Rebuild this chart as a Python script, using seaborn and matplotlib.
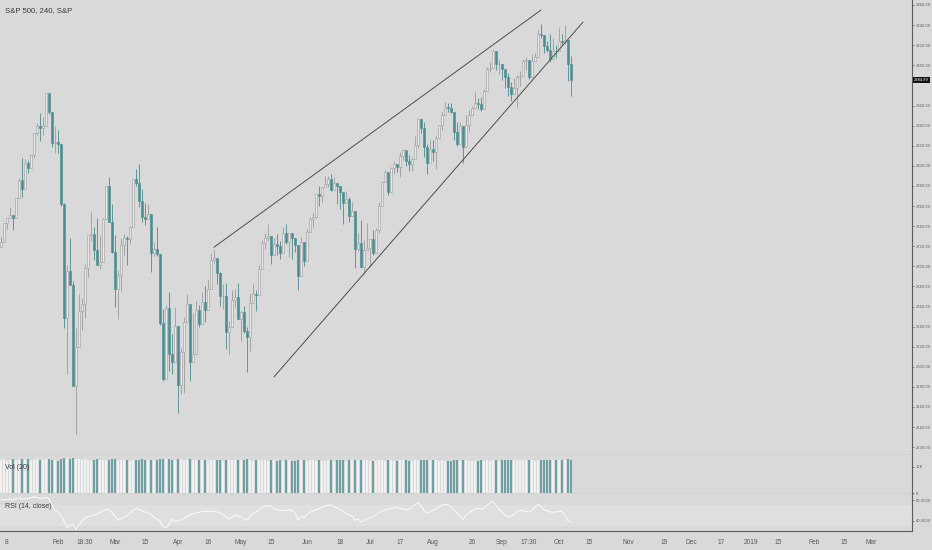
import matplotlib
matplotlib.use("Agg")
import matplotlib.pyplot as plt
from matplotlib import font_manager
import numpy as np
import pandas as pd
import seaborn as sns

# S&P 500, 240 min view, read back at daily resolution (Jan 4 - Oct 5 2018)
start_date = "2018-01-04"
end_date = "2019-03-29"
holidays = ["2018-01-15", "2018-02-19", "2018-03-30", "2018-05-28", "2018-07-04",
            "2018-09-03", "2018-11-22", "2018-12-25", "2019-01-01", "2019-01-21",
            "2019-02-18"]
first_open = 2719.5

close = [
    2723.99, 2743.15, 2747.71, 2751.29, 2748.23, 2767.56, 2786.24, 2776.42, 2802.56, 2798.03,
    2810.30, 2832.97, 2839.13, 2837.54, 2839.25, 2872.87, 2853.53, 2822.43, 2823.81, 2821.98,
    2762.13, 2648.94, 2695.14, 2681.66, 2581.00, 2619.55, 2656.00, 2662.94, 2698.63, 2731.20,
    2732.22, 2716.26, 2701.33, 2703.96, 2747.30, 2779.60, 2744.28, 2713.83, 2677.67, 2691.25,
    2720.94, 2728.12, 2726.80, 2738.97, 2786.57, 2783.02, 2765.31, 2749.48, 2747.33, 2752.01,
    2712.92, 2716.94, 2711.93, 2643.69, 2588.26, 2658.55, 2612.62, 2605.00, 2640.87, 2581.88,
    2614.45, 2644.69, 2662.84, 2604.47, 2613.16, 2656.87, 2642.19, 2663.99, 2656.30, 2677.84,
    2706.39, 2708.64, 2693.13, 2670.14, 2670.29, 2634.56, 2639.40, 2666.94, 2669.91, 2648.05,
    2654.80, 2635.67, 2629.73, 2663.42, 2672.63, 2671.92, 2697.79, 2723.07, 2727.72, 2730.13,
    2711.45, 2722.46, 2720.13, 2712.97, 2733.01, 2724.44, 2733.29, 2727.76, 2721.33, 2689.86,
    2724.01, 2705.27, 2734.62, 2746.87, 2748.80, 2772.35, 2770.37, 2779.03, 2782.00, 2786.85,
    2775.63, 2782.49, 2779.66, 2773.75, 2762.59, 2767.32, 2749.76, 2754.88, 2717.07, 2723.06,
    2699.63, 2716.31, 2718.37, 2726.71, 2713.22, 2736.61, 2759.82, 2784.17, 2793.84, 2774.02,
    2798.29, 2801.31, 2798.43, 2809.55, 2815.62, 2804.49, 2801.83, 2806.98, 2820.40, 2846.07,
    2837.44, 2818.82, 2802.60, 2816.29, 2813.36, 2827.22, 2840.35, 2850.40, 2858.45, 2857.70,
    2853.58, 2833.28, 2821.93, 2839.96, 2818.37, 2840.69, 2850.13, 2857.05, 2862.96, 2861.82,
    2856.98, 2874.69, 2896.74, 2897.52, 2914.04, 2901.13, 2901.52, 2896.72, 2888.60, 2878.05,
    2871.68, 2877.13, 2887.89, 2888.92, 2904.18, 2904.98, 2888.80, 2904.31, 2907.95, 2930.75,
    2929.67, 2919.37, 2915.56, 2905.97, 2914.00, 2913.98, 2924.59, 2923.43, 2925.51, 2901.61,
    2884.99,
]
high = [
    2729.29, 2743.45, 2748.51, 2759.14, 2750.80, 2767.56, 2787.85, 2807.54, 2807.04, 2805.83,
    2810.33, 2833.03, 2842.24, 2852.97, 2848.56, 2872.87, 2870.62, 2837.75, 2839.26, 2835.96,
    2808.92, 2763.39, 2701.04, 2727.67, 2685.27, 2638.67, 2672.61, 2668.84, 2702.10, 2731.51,
    2754.42, 2739.14, 2747.75, 2731.26, 2747.76, 2779.60, 2789.15, 2761.52, 2730.89, 2696.25,
    2728.09, 2732.08, 2730.60, 2740.45, 2786.57, 2797.22, 2801.90, 2777.11, 2763.03, 2761.85,
    2741.38, 2724.22, 2739.14, 2695.68, 2657.67, 2661.36, 2674.78, 2632.65, 2659.07, 2638.30,
    2618.42, 2649.86, 2672.08, 2656.88, 2653.55, 2665.45, 2661.43, 2674.72, 2680.26, 2686.49,
    2713.34, 2717.49, 2702.84, 2693.94, 2682.86, 2683.55, 2645.30, 2676.48, 2677.35, 2682.92,
    2655.27, 2660.87, 2639.62, 2673.61, 2683.35, 2676.34, 2701.27, 2726.11, 2732.86, 2742.10,
    2718.59, 2727.76, 2731.96, 2725.11, 2739.19, 2742.24, 2733.33, 2731.97, 2728.09, 2710.67,
    2729.34, 2722.50, 2736.93, 2749.16, 2752.61, 2772.39, 2779.90, 2779.39, 2790.21, 2789.80,
    2791.47, 2789.06, 2782.81, 2774.99, 2763.39, 2774.86, 2769.28, 2764.17, 2742.94, 2732.91,
    2746.09, 2725.90, 2743.26, 2727.26, 2736.58, 2737.83, 2764.41, 2784.65, 2795.58, 2785.91,
    2799.22, 2804.53, 2801.19, 2814.19, 2816.76, 2812.05, 2810.85, 2808.61, 2829.99, 2848.03,
    2844.24, 2843.17, 2821.74, 2825.83, 2825.58, 2829.91, 2840.38, 2853.29, 2863.43, 2862.48,
    2862.44, 2842.20, 2843.40, 2843.11, 2827.95, 2850.49, 2855.63, 2859.76, 2873.23, 2867.54,
    2868.78, 2876.16, 2898.25, 2903.77, 2916.50, 2912.46, 2906.32, 2900.18, 2894.21, 2892.68,
    2883.81, 2886.93, 2890.74, 2894.65, 2906.76, 2908.30, 2904.65, 2911.17, 2911.77, 2934.80,
    2940.91, 2923.79, 2923.95, 2931.15, 2927.22, 2920.53, 2937.06, 2931.42, 2939.86, 2919.78,
    2909.64,
]
low = [
    2719.07, 2727.92, 2737.60, 2747.86, 2736.06, 2752.78, 2769.64, 2768.64, 2778.38, 2792.56,
    2798.08, 2808.12, 2830.59, 2824.81, 2830.94, 2846.18, 2851.48, 2818.27, 2813.04, 2812.70,
    2759.97, 2638.17, 2593.07, 2681.33, 2580.56, 2532.69, 2622.45, 2637.08, 2648.87, 2689.82,
    2725.11, 2706.76, 2701.29, 2697.77, 2713.74, 2758.49, 2744.22, 2713.54, 2659.65, 2647.32,
    2675.75, 2711.26, 2701.74, 2722.65, 2751.54, 2780.00, 2758.68, 2744.38, 2741.47, 2749.97,
    2694.59, 2710.05, 2709.79, 2641.59, 2585.89, 2601.81, 2596.12, 2593.06, 2609.72, 2553.80,
    2573.36, 2573.61, 2649.58, 2586.27, 2610.79, 2635.78, 2639.25, 2653.83, 2645.05, 2665.16,
    2692.05, 2703.63, 2681.90, 2660.61, 2657.99, 2617.32, 2612.67, 2647.16, 2659.01, 2648.04,
    2625.41, 2633.45, 2594.62, 2615.32, 2664.70, 2655.20, 2674.14, 2704.54, 2717.45, 2725.47,
    2701.91, 2712.17, 2711.36, 2707.38, 2725.70, 2721.88, 2709.54, 2707.38, 2714.26, 2676.81,
    2702.38, 2700.68, 2718.70, 2740.54, 2739.51, 2748.46, 2760.16, 2763.59, 2779.26, 2778.78,
    2774.65, 2776.52, 2761.73, 2757.12, 2742.10, 2763.91, 2744.39, 2752.68, 2698.67, 2715.60,
    2699.38, 2691.99, 2718.03, 2698.95, 2711.16, 2716.02, 2733.52, 2770.73, 2786.24, 2770.77,
    2781.53, 2791.69, 2793.39, 2789.24, 2805.89, 2799.77, 2795.14, 2795.14, 2811.12, 2817.73,
    2832.73, 2808.34, 2791.47, 2805.85, 2805.04, 2796.34, 2827.37, 2835.98, 2855.92, 2853.09,
    2852.73, 2825.81, 2819.88, 2826.58, 2802.49, 2831.44, 2833.73, 2850.62, 2856.98, 2856.05,
    2854.03, 2862.35, 2884.69, 2893.50, 2898.40, 2895.22, 2891.73, 2885.13, 2876.92, 2869.29,
    2864.12, 2875.94, 2858.70, 2879.20, 2896.39, 2895.77, 2886.16, 2890.43, 2903.82, 2919.15,
    2927.11, 2912.63, 2913.70, 2903.28, 2909.27, 2907.50, 2917.91, 2919.37, 2921.36, 2883.92,
    2869.29,
]
# volume in thousands
volume_k = [
    12.6, 12.9, 12.4, 12.8, 13.0, 12.5, 12.7, 13.1, 12.6, 12.9,
    12.3, 12.8, 13.0, 12.7, 12.5, 12.9, 13.1, 12.6, 12.8, 12.4,
    13.2, 13.3, 13.2, 13.1, 13.3, 13.2, 13.0, 12.7, 12.9, 12.6,
    12.4, 12.8, 12.9, 12.5, 12.7, 12.6, 12.8, 12.9, 13.0, 12.8,
    12.7, 12.5, 12.6, 12.4, 12.8, 12.6, 12.7, 12.9, 12.5, 12.6,
    12.8, 12.7, 12.6, 13.0, 13.1, 12.9, 13.0, 12.8, 12.7, 13.0,
    12.9, 12.8, 12.6, 12.9, 12.7, 12.8, 12.5, 12.6, 12.7, 12.4,
    12.6, 12.5, 12.7, 12.6, 12.4, 12.8, 12.7, 12.6, 12.5, 12.6,
    12.7, 12.6, 12.9, 12.7, 12.4, 12.5, 12.6, 12.7, 12.5, 12.3,
    12.6, 12.5, 12.4, 12.6, 12.3, 12.5, 12.6, 12.4, 12.3, 12.7,
    12.6, 12.5, 12.4, 12.5, 12.6, 12.4, 12.5, 12.3, 12.4, 12.5,
    12.6, 12.4, 12.7, 12.5, 12.6, 12.4, 12.6, 12.5, 12.8, 12.6,
    12.7, 12.6, 12.8, 12.3, 12.2, 12.4, 12.5, 12.6, 12.4, 12.6,
    12.5, 12.4, 12.3, 12.5, 12.6, 12.5, 12.4, 12.3, 12.5, 12.7,
    12.6, 12.5, 12.6, 12.7, 12.5, 12.6, 12.4, 12.5, 12.3, 12.4,
    12.4, 12.6, 12.5, 12.4, 12.6, 12.5, 12.4, 12.3, 12.4, 12.3,
    12.5, 12.4, 12.5, 12.4, 12.6, 12.5, 12.4, 12.5, 12.6, 12.5,
    12.7, 12.5, 12.6, 12.5, 12.7, 12.6, 12.7, 12.5, 12.4, 12.8,
    12.7, 12.6, 12.5, 12.6, 12.5, 12.6, 12.7, 12.5, 12.6, 12.9,
    12.8,
]
rsi = [
    80, 81, 80, 82, 80, 82.5, 84, 81, 83, 82.5,
    84.5, 85.8, 85, 82.5, 83, 85, 82.5, 70, 59.5, 57,
    51, 39, 26.5, 31.7, 33.5, 23.5, 31.7, 40, 44.6, 47.8,
    49, 50.4, 53, 56, 58.8, 62, 60.7, 56, 49, 41.4,
    44, 46.5, 50.4, 54.2, 60, 63.3, 62, 58.8, 57, 54.2,
    53, 46, 43.3, 39.5, 28.5, 26, 33.5, 42.7, 39, 40,
    42, 44.6, 47.8, 50.4, 53, 55, 56, 57.5, 58, 58.8,
    58, 57.5, 57, 54.2, 51.6, 47.8, 43.3, 46.5, 51, 49,
    47.8, 43.3, 41.4, 47.8, 53, 57, 60.7, 65.8, 68.4, 69,
    67, 64, 60.7, 60, 59.5, 60, 60.7, 60, 55.5, 41,
    48, 46, 52, 56, 58.8, 60.7, 63.3, 65.8, 68.4, 69.7,
    70.3, 67, 65, 62, 57.5, 54.2, 51, 49, 41, 43,
    37.5, 40.7, 44, 45.2, 47.8, 51.6, 55.5, 58.8, 61.3, 62.6,
    64, 65, 65.8, 63.3, 62, 60.7, 62.6, 65.8, 70.3, 74.8,
    68.4, 59.5, 54.2, 57, 60, 63.3, 67, 70.3, 71.6, 70.3,
    67, 60.7, 54.2, 49, 42.7, 51, 55.5, 59.5, 62.6, 64,
    62, 64, 69.7, 74, 76.8, 70.3, 62, 57, 50.4, 47.8,
    49, 52.3, 57.5, 60.7, 58.8, 57.5, 57, 60, 66, 72,
    68, 60.7, 59.5, 57, 56, 57, 58, 57.5, 50.4, 40,
    37,
]

# wedge drawn on the chart: (date, price)
upper_line = [("2018-04-18", 2719), ("2018-09-21", 2955)]
lower_line = [("2018-05-16", 2590), ("2018-10-11", 2943)]

tick_dates = ["2018-01-08", "2018-02-01", "2018-02-14", "2018-03-01", "2018-03-15",
              "2018-04-02", "2018-04-16", "2018-05-01", "2018-05-15", "2018-06-01",
              "2018-06-18", "2018-07-02", "2018-07-17", "2018-08-01", "2018-08-20",
              "2018-09-04", "2018-09-17", "2018-10-01", "2018-10-15", "2018-11-01",
              "2018-11-19", "2018-12-03", "2018-12-17", "2019-01-02", "2019-01-15",
              "2019-02-01", "2019-02-15", "2019-03-01"]
tick_labels = ["8", "Feb", "18:30", "Mar", "15", "Apr", "16", "May", "15", "Jun",
               "18", "Jul", "17", "Aug", "20", "Sep", "17:30", "Oct", "15", "Nov",
               "19", "Dec", "17", "2019", "15", "Feb", "15", "Mar"]
price_ticks = [2520, 2540, 2560, 2580, 2600, 2620, 2640, 2660, 2680, 2700, 2720, 2740,
               2760, 2780, 2800, 2820, 2840, 2860, 2900, 2920, 2940, 2960]
last_price = 2884.99

BG = "#d9d9d9"
UP_FILL = "#e6e6e6"
UP_EDGE = "#9b9b9b"
DOWN = "#4a8c91"
VOL_UP = "#f1f1f1"
VOL_DOWN = "#6d9fa3"
TXT = "#5a5a5a"
LINE = "#5c5c5c"

sns.set_style("white", rc={"axes.facecolor": BG, "figure.facecolor": BG})
plt.rcParams["font.family"] = ["Liberation Sans", "DejaVu Sans"]

# look for a condensed face for the narrow price scale
narrow_fp = None
for f in font_manager.fontManager.ttflist:
    if f.style != "normal" or f.weight not in (400, "normal", "regular"):
        continue
    if f.stretch in ("condensed", "semi-condensed") or "Condensed" in f.name or "Narrow" in f.name:
        narrow_fp = font_manager.FontProperties(fname=f.fname)
        if "Sans" in f.name:
            break

cal = pd.bdate_range(start_date, end_date, freq="C", holidays=holidays)


def day_pos(d):
    return cal.get_loc(pd.Timestamp(d))


x = np.arange(len(close))
c = np.array(close)
o = np.array([first_open] + close[:-1])
hi = np.maximum(np.array(high), np.maximum(o, c))
lo = np.minimum(np.array(low), np.minimum(o, c))
up = c >= o

W, H = 932, 550


def box(top, bottom, right=912):
    return [0, 1 - bottom / H, right / W, (bottom - top) / H]


fig = plt.figure(figsize=(W / 100, H / 100), dpi=100)
ax = fig.add_axes(box(0, 455))
axv = fig.add_axes(box(455, 494), sharex=ax)
axr = fig.add_axes(box(494, 531), sharex=ax)

for a in (ax, axv, axr):
    a.set_facecolor(BG)
    for s in ("top", "left"):
        a.spines[s].set_visible(False)
    for s in ("right", "bottom"):
        a.spines[s].set_color(LINE)
        a.spines[s].set_linewidth(0.8)
    a.yaxis.tick_right()
    a.tick_params(axis="y", direction="out", length=1.5, width=0.5, pad=1.2,
                  labelsize=4.4, colors=TXT)
    a.grid(False)

ax.set_xlim(-1 / 3, 911 / 3)

# candles
wick_col = np.where(up, UP_EDGE, DOWN)
ax.vlines(x, lo, hi, colors=wick_col, linewidth=0.6, zorder=2)
ax.bar(x, np.maximum(np.abs(c - o), 0.6), bottom=np.minimum(o, c), width=0.55,
       color=np.where(up, UP_FILL, DOWN), edgecolor=np.where(up, UP_EDGE, DOWN),
       linewidth=0.4, zorder=3)

# wedge lines
for line in (upper_line, lower_line):
    ax.plot([day_pos(line[0][0]), day_pos(line[1][0])], [line[0][1], line[1][1]],
            color="#4d4d4d", linewidth=0.7, zorder=4)

ax.set_ylim(2960 - 450 / 1.005, 2960 + 5 / 1.005)
ax.set_yticks(price_ticks, [f"{v:.2f}" for v in price_ticks])
ax.tick_params(axis="x", bottom=False, labelbottom=False)
price_tag = ax.annotate(f"{last_price:.2f}", xy=(1, last_price),
                        xycoords=("axes fraction", "data"), xytext=(1.2, 0),
                        textcoords="offset points", ha="left", va="center",
                        fontsize=4.4, color="white", fontweight="bold",
                        bbox=dict(boxstyle="square,pad=0.25", fc="#111111", ec="none"))
fig.text(5 / W, 1 - 11 / H, "S&P 500, 240, S&P", fontsize=5.6, color="#3a3a3a",
         va="center", ha="left")

# volume
axv.bar(x, volume_k, width=0.8, color=np.where(up, VOL_UP, VOL_DOWN), linewidth=0)
axv.set_ylim(-0.38, 14.6)
axv.set_yticks([0, 10], ["0", "10K"])
axv.tick_params(axis="x", bottom=False, labelbottom=False)
axv.text(5 / 912, 0.68, "Vol (20)", transform=axv.transAxes, fontsize=5,
         color="#3a3a3a", va="center")

# rsi
axr.axhspan(30, 70, color="#dfdfdf", zorder=0, linewidth=0)
sns.lineplot(x=x, y=rsi, ax=axr, color="#f8f8f8", linewidth=0.8)
axr.set_ylim(20.1, 91.6)
axr.set_yticks([40, 80], ["40.0000", "80.0000"])
axr.set_ylabel("")
axr.text(5 / 912, 0.65, "RSI (14, close)", transform=axr.transAxes, fontsize=5,
         color="#3a3a3a", va="center")
axr.set_xticks([day_pos(d) for d in tick_dates], tick_labels)
axr.tick_params(axis="x", direction="out", length=2, width=0.5, pad=4,
                labelsize=4.8, colors=TXT)

# squeeze the right-hand price scale into the 20 px strip
scale_texts = [t for a in (ax, axv, axr) for t in a.get_yticklabels()] + [price_tag]
if narrow_fp is not None:
    for t in scale_texts:
        t.set_fontproperties(narrow_fp)
size = 4.6
for t in scale_texts:
    t.set_fontsize(size)
fig.canvas.draw()
renderer = fig.canvas.get_renderer()
while size > 2.6:
    right = max(t.get_window_extent(renderer).x1 for t in scale_texts)
    if right <= W - 1:
        break
    size -= 0.1
    for t in scale_texts:
        t.set_fontsize(size)
    fig.canvas.draw()

fig.savefig("out.png", dpi=100, facecolor=BG)
